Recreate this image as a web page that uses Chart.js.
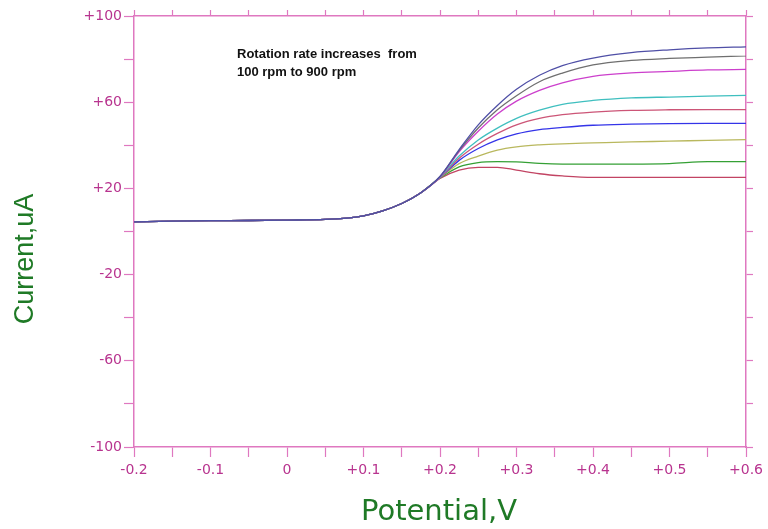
<!DOCTYPE html>
<html>
<head>
    <meta charset="utf-8">
    <title>Rotating disk voltammetry</title>
    <script src="https://cdn.jsdelivr.net/npm/chart.js"></script>
    <style>
        body { margin: 0; background: #fff; }
        canvas { display: block; }
    </style>
</head>
<body>
    <canvas id="rde" width="768" height="529"></canvas>

    <script>
        // potential grid (V) shared by every sweep
        const potential = [-0.2, -0.15, -0.1, -0.05, 0, 0.05, 0.1, 0.125, 0.15, 0.175, 0.2, 0.225, 0.25, 0.275, 0.3, 0.33, 0.36, 0.4, 0.45, 0.5, 0.55, 0.6];

        // current (uA) for each rotation rate
        const rpm900 = [4.5, 4.8, 5.0, 5.1, 5.3, 5.6, 7.3, 9.6, 13, 18, 25.5, 38, 49.5, 58.5, 66, 72.5, 77, 80.5, 83, 84.3, 85.2, 85.7];
        const rpm800 = [4.5, 4.8, 5.0, 5.1, 5.3, 5.6, 7.3, 9.6, 13, 18, 25.5, 37.5, 48, 56.5, 63, 69.5, 73.5, 77.3, 79.4, 80.3, 80.9, 81.5];
        const rpm700 = [4.5, 4.8, 5.0, 5.1, 5.3, 5.6, 7.3, 9.6, 13, 18, 25.3, 37, 46.5, 54.5, 60.5, 65.5, 69, 72, 73.6, 74.3, 75, 75.2];
        const rpm600 = [4.5, 4.8, 5.0, 5.1, 5.3, 5.6, 7.3, 9.6, 13, 18, 25.2, 35, 42.5, 48, 52.5, 56.3, 59, 60.8, 62, 62.4, 62.8, 63.2];
        const rpm500 = [4.5, 4.8, 5.0, 5.1, 5.3, 5.6, 7.3, 9.6, 13, 18, 25.1, 34, 40.5, 45.5, 49.5, 52.5, 54.2, 55.4, 56.2, 56.5, 56.6, 56.6];
        const rpm400 = [4.5, 4.8, 5.0, 5.1, 5.3, 5.6, 7.3, 9.6, 13, 18, 25, 33, 38.5, 42.5, 45.3, 47.3, 48.3, 49.3, 49.8, 50.1, 50.2, 50.2];
        const rpm300 = [4.5, 4.8, 5.0, 5.1, 5.3, 5.6, 7.3, 9.6, 13, 18, 25, 31.5, 35, 37.8, 39.3, 40.2, 40.7, 41.1, 41.6, 41.9, 42.3, 42.6];
        const rpm200 = [4.5, 4.8, 5.0, 5.1, 5.3, 5.6, 7.3, 9.6, 13, 18, 24.8, 30, 32, 32.4, 32.3, 31.6, 31.3, 31.3, 31.3, 31.5, 32.4, 32.4];
        const rpm100 = [4.5, 4.8, 5.0, 5.1, 5.3, 5.6, 7.3, 9.6, 13, 18, 24.6, 28.5, 29.8, 29.8, 28.5, 26.8, 25.8, 25.1, 25.1, 25.1, 25.1, 25.1];

        const sweeps = [rpm900, rpm800, rpm700, rpm600, rpm500, rpm400, rpm300, rpm200, rpm100];
        const sweepColors = ["#4f4fa6", "#6f6f6f", "#cc3fcc", "#3fbfbf", "#cc5577", "#3434e8", "#b9b85e", "#35a035", "#c24463"];

        const pink = "#df78c0";
        const tickPink = "#b8348f";

        function signed(v, digits) {
            const r = Number(v.toFixed(digits));
            if (r === 0) return "0";
            return (r > 0 ? "+" : "") + r;
        }

        function fixedSize(size) {
            return function (scale) {
                if (scale.isHorizontal()) scale.height = size;
                else scale.width = size;
            };
        }

        const datasets = sweeps.map((ys, i) => ({
            data: ys.map((y, k) => ({ x: potential[k], y: y })),
            borderColor: sweepColors[i],
            borderWidth: 1.3,
            pointRadius: 0,
            cubicInterpolationMode: "monotone",
            fill: false
        }));

        // axis titles and the note inside the plot
        const captions = {
            id: "captions",
            afterDraw(chart) {
                const ctx = chart.ctx;
                ctx.save();
                ctx.fillStyle = "#1f7a26";
                ctx.textAlign = "center";
                ctx.textBaseline = "alphabetic";
                ctx.font = "29px 'DejaVu Sans'";
                ctx.fillText("Potential,V", 439, 520);

                ctx.translate(33, 259);
                ctx.rotate(-Math.PI / 2);
                ctx.font = "27px 'Liberation Sans'";
                ctx.fillText("Current,uA", 0, 0);
                ctx.restore();

                ctx.save();
                ctx.fillStyle = "#111";
                ctx.font = "bold 13px 'Liberation Sans'";
                ctx.textAlign = "left";
                ctx.fillText("Rotation rate increases  from", 237, 58);
                ctx.fillText("100 rpm to 900 rpm", 237, 76);
                ctx.restore();
            }
        };

        new Chart(document.getElementById("rde"), {
            type: "line",
            data: { datasets },
            options: {
                responsive: false,
                animation: false,
                layout: { padding: { left: 0, right: 14, top: 10, bottom: 0 } },
                plugins: { legend: { display: false }, tooltip: { enabled: false } },
                scales: {
                    x: {
                        type: "linear",
                        position: "bottom",
                        min: -0.2,
                        max: 0.6,
                        afterFit: fixedSize(82),
                        border: { color: pink, width: 1.5 },
                        grid: { drawOnChartArea: false, color: pink, tickLength: 10, tickWidth: 1.2 },
                        ticks: {
                            stepSize: 0.05,
                            autoSkip: false,
                            maxRotation: 0,
                            padding: 5,
                            color: tickPink,
                            font: { family: "DejaVu Sans", size: 14 },
                            callback: v => (Math.round(v * 100) % 10 === 0 ? signed(v, 1) : "")
                        }
                    },
                    x2: {
                        type: "linear",
                        position: "top",
                        min: -0.2,
                        max: 0.6,
                        afterFit: fixedSize(6),
                        border: { color: pink, width: 1.5 },
                        grid: { drawOnChartArea: false, color: pink, tickLength: 6, tickWidth: 1.2 },
                        ticks: { stepSize: 0.05, display: false }
                    },
                    y: {
                        type: "linear",
                        position: "left",
                        min: -100,
                        max: 100,
                        afterFit: fixedSize(134),
                        border: { color: pink, width: 1.5 },
                        grid: { drawOnChartArea: false, color: pink, tickLength: 10, tickWidth: 1.2 },
                        ticks: {
                            stepSize: 20,
                            autoSkip: false,
                            padding: 2,
                            color: tickPink,
                            font: { family: "DejaVu Sans", size: 14 },
                            callback: v => ((v + 100) % 40 === 0 ? signed(v, 0) : "")
                        }
                    },
                    y2: {
                        type: "linear",
                        position: "right",
                        min: -100,
                        max: 100,
                        afterFit: fixedSize(7),
                        border: { color: pink, width: 1.5 },
                        grid: { drawOnChartArea: false, color: pink, tickLength: 7, tickWidth: 1.2 },
                        ticks: { stepSize: 20, display: false }
                    }
                }
            },
            plugins: [captions]
        });
    </script>
</body>
</html>
